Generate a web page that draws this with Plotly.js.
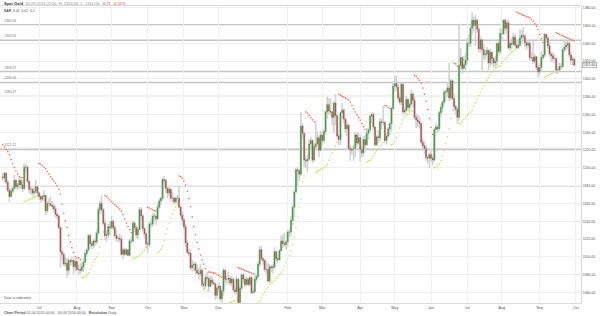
<!DOCTYPE html>
<html><head><meta charset="utf-8">
<script src="https://cdn.plot.ly/plotly-3.0.1.min.js"></script>
<style>html,body{margin:0;padding:0;background:#fff}#chart{width:600px;height:316px}</style>
</head><body><div id="chart"></div>
<script>
// ---- Data: Spot Gold, daily, 01.06.2015 - 30.09.2016 (values read/estimated from the chart) ----
const firstDay = '2015-06-01';
const lastDay = '2016-09-30';
const closedDays = ['2015-12-25', '2016-01-01'];

const open = [
 1190,1189,1194,1184,1175,1168,1174,1177,1186,1179,1181,1186,1181,1177,1201,1201,1185,1176,1176,1172,1174,1179,
 1172,1168,1165,1168,1169,1152,1160,1160,1158,1157,1154,1148,1146,1133,1106,1103,1092,1093,1085,1096,1095,1096,1089,
 1095,1086,1086,1085,1089,1094,1104,1108,1124,1115,1113,1118,1117,1127,1153,1160,1153,1138,1124,1125,1134,
 1133,1140,1133,1124,1121,1121,1120,1103,1108,1103,1108,1102,1118,1118,1138,1133,1125,1131,1153,1146,1132,1126,
 1115,1114,1137,1137,1146,1146,1143,1156,1163,1166,1187,1186,1177,1172,1176,1166,1166,1162,1166,1166,1156,1147,
 1142,1134,1116,1105,1104,1088,1091,1092,1085,1082,1081,1085,1069,1068,1077,1076,1067,1074,1071,1070,1057,
 1065,1067,1053,1062,1085,1075,1075,1076,1071,1075,1063,1061,1075,1049,1065,1080,1075,1069,1075,1069,1077,1060,
 1061,1075,1078,1092,1108,1098,1096,1086,1086,1073,1089,1088,1089,1106,1098,1097,1107,1118,1115,1114,
 1117,1128,1128,1141,1156,1173,1198,1197,1193,1247,1239,1209,1208,1210,1227,1231,1209,1224,1227,1234,1220,
 1237,1231,1241,1263,1271,1264,1263,1257,1273,1259,1236,1232,1262,1265,1255,1244,1248,1222,1220,1221,1222,1237,1228,
 1234,1221,1217,1232,1226,1239,1243,1258,1260,1246,1226,1235,1234,1252,1251,1251,1231,1236,1244,1250,1267,
 1292,1295,1291,1279,1274,1294,1263,1265,1277,1268,1272,1283,1276,1257,1254,1252,1250,1229,1225,1222,1212,1211,
 1215,1211,1209,1243,1246,1244,1262,1268,1274,1285,1286,1290,1279,1298,1278,1269,1266,1257,1315,1324,1312,1316,
 1321,1340,1340,1357,1366,1360,1366,1356,1334,1344,1333,1327,1328,1332,1318,1330,1323,1318,1320,1340,1331,
 1351,1351,1366,1357,1363,1335,1340,1339,1347,1338,1335,1338,1346,1349,1348,1341,1338,1340,1324,1324,1320,1325,1313,
 1308,1313,1324,1327,1350,1346,1337,1328,1326,1323,1323,1310,1310,1314,1314,1333,1336,1338,1340,1327,1321,1322.31
];
const high = [
 1195,1196,1195,1186,1178,1177,1180,1192,1188,1183,1189,1187,1186,1205,1204,1203,1186,1180,1178,1177,1187,1180,
 1173,1170,1170,1175,1170,1163,1166,1168,1163,1160,1157,1150,1147,1134,1108,1104,1100,1099,1099,1098,1100,1097,1099,
 1097,1091,1093,1095,1098,1106,1110,1126,1126,1118,1120,1121,1131,1156,1163,1169,1155,1141,1130,1137,1140,
 1146,1142,1136,1130,1124,1126,1124,1110,1111,1110,1109,1120,1123,1141,1140,1136,1134,1156,1156,1148,1133,1128,
 1118,1140,1142,1149,1150,1148,1160,1166,1168,1189,1191,1187,1178,1179,1177,1173,1168,1168,1170,1180,1158,1151,
 1143,1137,1119,1109,1108,1097,1094,1095,1091,1088,1092,1087,1073,1081,1083,1078,1079,1078,1075,1071,1067,
 1072,1069,1065,1088,1086,1079,1083,1079,1078,1077,1067,1079,1076,1068,1081,1082,1077,1078,1077,1079,1078,1065,
 1082,1081,1095,1112,1112,1100,1098,1096,1093,1092,1091,1093,1111,1107,1102,1109,1124,1125,1127,1119,
 1130,1131,1146,1158,1175,1200,1201,1199,1263,1250,1240,1212,1215,1232,1235,1232,1228,1253,1241,1237,1242,
 1241,1244,1265,1280,1278,1279,1264,1275,1283,1260,1238,1263,1273,1267,1256,1253,1249,1225,1224,1226,1240,1240,1240,
 1237,1225,1236,1237,1245,1244,1260,1263,1262,1247,1237,1243,1256,1256,1270,1253,1238,1246,1251,1269,1297,
 1303,1304,1294,1283,1295,1295,1268,1281,1279,1275,1288,1285,1280,1261,1260,1258,1251,1233,1230,1226,1214,1217,
 1222,1214,1245,1250,1248,1264,1272,1276,1288,1288,1297,1318,1300,1299,1283,1271,1268,1362,1335,1325,1326,1330,
 1346,1350,1360,1375,1370,1372,1368,1359,1348,1345,1339,1333,1336,1333,1334,1331,1325,1326,1341,1342,1357,
 1356,1367,1368,1366,1367,1343,1346,1352,1350,1345,1343,1356,1355,1358,1350,1342,1344,1342,1330,1343,1328,1326,1316,
 1318,1330,1328,1352,1351,1348,1341,1331,1330,1328,1324,1314,1318,1318,1335,1344,1342,1343,1342,1330,1326,1324.06
];
const low = [
 1186,1184,1182,1173,1162,1167,1171,1176,1176,1175,1177,1176,1173,1175,1195,1183,1172,1170,1169,1168,1171,1168,
 1164,1161,1163,1162,1147,1149,1157,1156,1154,1150,1144,1142,1131,1088,1096,1090,1089,1077,1080,1090,1091,1080,1084,
 1084,1080,1081,1083,1083,1093,1100,1105,1111,1109,1110,1113,1114,1125,1148,1150,1136,1119,1117,1121,1124,
 1131,1130,1122,1117,1117,1116,1102,1098,1101,1102,1101,1101,1114,1116,1128,1121,1120,1130,1141,1129,1122,1110,
 1105,1111,1133,1134,1140,1136,1141,1154,1158,1164,1180,1172,1166,1168,1163,1161,1159,1160,1160,1155,1143,1136,
 1131,1111,1104,1101,1085,1084,1084,1081,1080,1075,1078,1066,1062,1064,1072,1061,1066,1068,1068,1052,1053,
 1060,1051,1046,1056,1071,1069,1071,1068,1067,1060,1058,1058,1047,1048,1063,1071,1066,1068,1067,1068,1058,1058,
 1061,1071,1077,1090,1096,1091,1083,1081,1071,1071,1083,1082,1086,1095,1093,1096,1106,1110,1111,1108,
 1111,1122,1124,1136,1145,1172,1180,1185,1191,1232,1201,1200,1195,1208,1220,1205,1207,1222,1225,1212,1219,
 1226,1228,1238,1255,1260,1259,1248,1239,1248,1233,1225,1226,1255,1250,1240,1236,1220,1208,1215,1208,1212,1225,1226,
 1207,1212,1213,1220,1225,1232,1240,1250,1243,1224,1225,1228,1230,1243,1248,1228,1226,1234,1237,1241,1265,
 1286,1287,1275,1271,1270,1261,1260,1263,1264,1264,1270,1268,1255,1245,1246,1244,1227,1222,1216,1208,1205,1200,
 1207,1203,1207,1238,1240,1242,1257,1263,1271,1275,1280,1275,1276,1276,1264,1260,1250,1253,1311,1306,1310,1310,
 1318,1336,1336,1350,1354,1337,1352,1330,1330,1310,1322,1321,1325,1310,1314,1316,1313,1314,1315,1326,1328,
 1343,1349,1354,1350,1333,1331,1334,1338,1335,1333,1334,1337,1340,1345,1336,1333,1335,1320,1321,1317,1318,1310,1302,
 1305,1308,1322,1324,1341,1334,1325,1319,1320,1318,1306,1306,1308,1311,1312,1331,1332,1334,1324,1316,1315,1314.06
];
const close = [
 1189,1194,1184,1175,1168,1174,1177,1186,1179,1181,1186,1181,1177,1201,1201,1185,1176,1176,1172,1174,1179,1172,
 1168,1165,1168,1169,1152,1160,1160,1158,1157,1154,1148,1146,1133,1106,1103,1092,1093,1085,1096,1095,1096,1089,1095,
 1086,1086,1085,1089,1094,1104,1108,1124,1115,1113,1118,1117,1127,1153,1160,1153,1138,1124,1125,1134,1133,
 1140,1133,1124,1121,1121,1120,1103,1108,1103,1108,1102,1118,1118,1138,1133,1125,1131,1153,1146,1132,1126,1115,
 1114,1137,1137,1146,1146,1143,1156,1163,1166,1187,1186,1177,1172,1176,1166,1166,1162,1166,1166,1156,1147,1142,
 1134,1116,1105,1104,1088,1091,1092,1085,1082,1081,1085,1069,1068,1077,1076,1067,1074,1071,1070,1057,1065,
 1067,1053,1062,1085,1075,1075,1076,1071,1075,1063,1061,1075,1049,1065,1080,1075,1069,1075,1069,1077,1060,1061,
 1075,1078,1092,1108,1098,1096,1086,1086,1073,1089,1088,1089,1106,1098,1097,1107,1118,1115,1114,1117,
 1128,1128,1141,1156,1173,1198,1197,1193,1247,1239,1209,1208,1210,1227,1231,1209,1224,1227,1234,1220,1237,
 1231,1241,1263,1271,1264,1263,1257,1273,1259,1236,1232,1262,1265,1255,1244,1248,1222,1220,1221,1222,1237,1228,1234,
 1221,1217,1232,1226,1239,1243,1258,1260,1246,1226,1235,1234,1252,1251,1251,1231,1236,1244,1250,1267,1292,
 1295,1291,1279,1274,1294,1263,1265,1277,1268,1272,1283,1276,1257,1254,1252,1250,1229,1225,1222,1212,1211,1215,
 1211,1209,1243,1246,1244,1262,1268,1274,1285,1286,1290,1279,1298,1278,1269,1266,1257,1315,1324,1312,1316,1321,
 1340,1340,1357,1366,1360,1366,1356,1334,1344,1333,1327,1328,1332,1318,1330,1323,1318,1320,1340,1331,1351,
 1351,1366,1357,1363,1335,1340,1339,1347,1338,1335,1338,1346,1349,1348,1341,1338,1340,1324,1324,1320,1325,1313,1308,
 1313,1324,1327,1350,1346,1337,1328,1326,1323,1323,1310,1310,1314,1314,1333,1336,1338,1340,1327,1321,1322.31,1315.60
];

// Parabolic SAR settings (as in the legend) and its state at the first bar
const sarParams = [0.02, 0.02, 0.2];      // step, start, max
const sarSeed = [1226, 1181, 0.06];        // SAR value, extreme point, acceleration (downtrend)

// Horizontal support / resistance lines
const srLevels = [1360.94, 1343.56, 1308.37, 1296.06, 1280.47, 1221.12, 1180.10];
const srLabels = ['1360.94', '1343.56', '1308.37', '1296.06', '1280.47', '1221.12', ''];

// x tick marks (first trading day of the month) and labels
const tickDates = ['2015-07-01','2015-08-03','2015-09-01','2015-10-01','2015-11-02','2015-12-01',
  '2016-02-01','2016-03-01','2016-04-01','2016-05-02','2016-06-01','2016-07-01','2016-08-01','2016-09-01','2016-10-03'];
const tickLabels = ['Jul','Aug','Sep','Oct','Nov','Dec','Feb','Mar','Apr','May','Jun','Jul','Aug','Sep','Oct'];

// ---- build ----
function tradingDays(start, end, skip) {
  const out = [];
  let d = new Date(start + 'T00:00:00Z');
  const e = new Date(end + 'T00:00:00Z');
  while (d <= e) {
    const wd = d.getUTCDay();
    const s = d.toISOString().slice(0, 10);
    if (wd !== 0 && wd !== 6 && skip.indexOf(s) < 0) out.push(s);
    d = new Date(d.getTime() + 86400000);
  }
  return out;
}
const dates = tradingDays(firstDay, lastDay, closedDays);

function psar(h, l, p, seed) {
  const step = p[0], start = p[1], max = p[2];
  const n = h.length, up = new Array(n).fill(null), dn = new Array(n).fill(null);
  let bull = false, sar = seed[0], ep = seed[1], af = seed[2];
  dn[0] = sar;
  for (let i = 1; i < n; i++) {
    let s = sar + af * (ep - sar);
    if (bull) {
      s = Math.min(s, l[i - 1], i > 1 ? l[i - 2] : l[i - 1]);
      if (l[i] < s) { bull = false; s = ep; ep = l[i]; af = start; }
      else if (h[i] > ep) { ep = h[i]; af = Math.min(af + step, max); }
    } else {
      s = Math.max(s, h[i - 1], i > 1 ? h[i - 2] : h[i - 1]);
      if (h[i] > s) { bull = true; s = ep; ep = h[i]; af = start; }
      else if (l[i] < ep) { ep = l[i]; af = Math.min(af + step, max); }
    }
    sar = s;
    if (bull) up[i] = s; else dn[i] = s;
  }
  return { up, dn };
}
const sar = psar(high, low, sarParams, sarSeed);

const bodyHi = open.map((o, i) => Math.max(o, close[i]));
const bodyLo = open.map((o, i) => Math.min(o, close[i]));

const GRAY = '#d2d2d2', GREEN = '#339433', RED = '#a84444';
const FONT = 'Liberation Sans, Arial, sans-serif';

const traces = [
  { type: 'candlestick', x: dates, open: open, high: high, low: low, close: close,
    increasing: { line: { color: GRAY, width: 1.6 }, fillcolor: GRAY },
    decreasing: { line: { color: GRAY, width: 1.6 }, fillcolor: GRAY },
    whiskerwidth: 0, hoverinfo: 'skip', showlegend: false },
  { type: 'candlestick', x: dates, open: open, high: bodyHi, low: bodyLo, close: close,
    increasing: { line: { color: GREEN, width: 0.4 }, fillcolor: GREEN },
    decreasing: { line: { color: RED, width: 0.4 }, fillcolor: RED },
    whiskerwidth: 0, hoverinfo: 'skip', showlegend: false },
  { type: 'scatter', mode: 'markers', x: dates, y: sar.dn,
    marker: { size: 1.6, color: '#ff6a4a' }, hoverinfo: 'skip', showlegend: false },
  { type: 'scatter', mode: 'markers', x: dates, y: sar.up,
    marker: { size: 1.6, color: '#b4ec55' }, hoverinfo: 'skip', showlegend: false }
];

const n = close.length;
const last = close[n - 1], prev = close[n - 2];
const chg = last - prev, pct = chg / prev * 100;
function dmy(s) { const p = s.split('-'); return p[2] + '.' + p[1] + '.' + p[0]; }

const shapes = srLevels.map(v => ({
  type: 'line', xref: 'paper', x0: 0, x1: 1, yref: 'y', y0: v, y1: v,
  line: { color: '#c4c4c4', width: 1.4 }, layer: 'below'
}));

const annotations = [];
srLevels.forEach((v, i) => {
  if (!srLabels[i]) return;
  annotations.push({ xref: 'paper', x: 0, xanchor: 'left', xshift: 2, y: v, yanchor: 'bottom', yshift: 0,
    text: srLabels[i], showarrow: false, font: { family: FONT, size: 3.4, color: '#777' } });
});
annotations.push({ xref: 'paper', yref: 'paper', x: 0, xanchor: 'left', xshift: 2, y: 1, yanchor: 'middle', yshift: 3,
  showarrow: false, align: 'left', font: { family: FONT, size: 4, color: '#333' },
  text: '<b>Spot Gold</b>  <span style="color:#8a8a8a">' + dmy(lastDay) + ' 22:00  H: ' + high[n - 1].toFixed(2) +
        '  L: ' + low[n - 1].toFixed(2) + '</span>  <span style="color:#e03a2a">' + chg.toFixed(2) + '  ' + pct.toFixed(2) + '%</span>' });
annotations.push({ xref: 'paper', yref: 'paper', x: 0, xanchor: 'left', xshift: 2, y: 1, yanchor: 'top', yshift: -1,
  showarrow: false, font: { family: FONT, size: 3.4, color: '#555' },
  text: '<b>SAR</b>  ' + sarParams[0].toFixed(2) + '  ' + sarParams[1].toFixed(2) + '  ' + sarParams[2] });
annotations.push({ xref: 'paper', yref: 'paper', x: 0, xanchor: 'left', xshift: 2, y: 0, yanchor: 'bottom', yshift: 1,
  showarrow: false, font: { family: FONT, size: 3.6, color: '#555' }, text: 'Data is indicative' });
annotations.push({ xref: 'paper', yref: 'paper', x: 0, xanchor: 'left', xshift: 2, y: 0, yanchor: 'middle', yshift: -10,
  showarrow: false, font: { family: FONT, size: 3.6, color: '#555' },
  text: '<b>Chart Period</b> ' + dmy(firstDay) + ' 00:00 - ' + dmy(lastDay) + ' 00:00   <b>Resolution</b> Daily' });
annotations.push({ xref: 'paper', x: 1, xanchor: 'left', xshift: 1, y: last, yanchor: 'middle',
  showarrow: false, text: last.toFixed(2), bgcolor: '#fff', bordercolor: '#777', borderwidth: 0.5, borderpad: 0.6,
  font: { family: FONT, size: 3.4, color: '#333' } });

const layout = {
  width: 600, height: 316,
  margin: { l: 0, r: 19, t: 6, b: 13 },
  paper_bgcolor: '#fff', plot_bgcolor: '#fff',
  showlegend: false,
  font: { family: FONT, size: 4, color: '#555' },
  xaxis: {
    type: 'date', range: ['2015-05-28 07:00', '2016-10-06 02:00'],
    rangebreaks: [{ bounds: ['sat', 'mon'] }, { values: closedDays }],
    rangeslider: { visible: false },
    tickmode: 'array', tickvals: tickDates, ticktext: tickLabels,
    tickfont: { family: FONT, size: 3.8, color: '#555' },
    showgrid: true, gridcolor: '#f1f1f1', gridwidth: 1,
    showline: true, linecolor: '#dadada', linewidth: 1, mirror: true,
    ticks: '', zeroline: false, fixedrange: true
  },
  yaxis: {
    side: 'right', range: [1048.3, 1382],
    tick0: 1060, dtick: 20, tickformat: '.2f',
    tickfont: { family: FONT, size: 3.5, color: '#555' },
    showgrid: true, gridcolor: '#efefef', gridwidth: 1,
    showline: true, linecolor: '#dadada', linewidth: 1, mirror: true,
    ticks: '', zeroline: false, fixedrange: true
  },
  shapes: shapes,
  annotations: annotations
};

Plotly.newPlot('chart', traces, layout, { staticPlot: true, displayModeBar: false });
</script>
</body></html>
